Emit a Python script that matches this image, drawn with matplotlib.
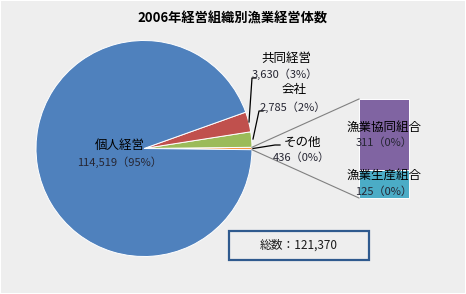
import matplotlib
matplotlib.use("Agg")
import matplotlib.pyplot as plt
from matplotlib.patches import Rectangle
import math

plt.rcParams['font.family'] = ['Noto Sans CJK JP', 'DejaVu Sans']

title = "2006年経営組織別漁業経営体数"
main_labels = ['その他', '会社', '共同経営', '個人経営']
main_values = [436, 2785, 3630, 114519]
main_pcts = ['0%', '2%', '3%', '95%']
sub_labels = ['漁業生産組合', '漁業協同組合']
sub_values = [125, 311]
sub_pcts = ['0%', '0%']
total_label = "総数：121,370"

W, H = 466, 294
fig = plt.figure(figsize=(W / 100, H / 100), dpi=100)
fig.patch.set_facecolor('#eeeeee')
ax = fig.add_axes([0, 0, 1, 1])

def Y(y):
    return H - y

total = sum(main_values)
colors = ['#F79646', '#9BBB59', '#C0504D', '#4F81BD']
half = main_values[0] / total * 360 / 2
cx, cy, R = 144, Y(148.5), 108
wedges, _ = ax.pie(main_values, colors=colors, startangle=-half, counterclock=True,
                   center=(cx, cy), radius=R,
                   wedgeprops=dict(edgecolor='white', linewidth=0.7))

# bar of the "other" slice
bx0, bx1 = 359, 409
by_bot, by_top = Y(198), Y(99)
scale = (by_top - by_bot) / sum(sub_values)
sub_colors = ['#4BACC6', '#8064A2']
bottom = by_bot
for v, c in zip(sub_values, sub_colors):
    ax.bar((bx0 + bx1) / 2, v * scale, bottom=bottom, width=bx1 - bx0, color=c,
           edgecolor='white', linewidth=0.7)
    bottom += v * scale

# connector lines
a = math.radians(half)
px = cx + R * math.cos(a)
ax.plot([px, bx0], [cy + R * math.sin(a), by_top], color='#808080', lw=0.8)
ax.plot([px, bx0], [cy - R * math.sin(a), by_bot], color='#808080', lw=0.8)

name_fs = 9
val_fs = 8
val_color = '#262633'

def lab(x, y, name):
    ax.text(x, Y(y), name, ha='center', va='center', fontsize=name_fs, color='black')

def val(x, y, s):
    ax.text(x, Y(y), s, ha='center', va='center', fontsize=val_fs, color=val_color)

pos_main = {
    '個人経営': ((120, 145), (120, 162)),
    '共同経営': ((286, 58), (285, 74)),
    '会社': ((294, 90), (293, 107)),
    'その他': ((302, 142), (301, 158)),
}
for n, v, p in zip(main_labels, main_values, main_pcts):
    (nx, ny), (vx, vy) = pos_main[n]
    lab(nx, ny, n)
    val(vx, vy, f"{v:,}（{p}）")

pos_sub = {
    '漁業協同組合': ((384, 127), (384, 143)),
    '漁業生産組合': ((384, 175), (384, 192)),
}
for n, v, p in zip(sub_labels, sub_values, sub_pcts):
    (nx, ny), (vx, vy) = pos_sub[n]
    lab(nx, ny, n)
    val(vx, vy, f"{v:,}（{p}）")

# leader lines
ax.plot([249, 252, 256], [Y(122), Y(78), Y(78)], color='black', lw=0.9)
ax.plot([253, 259, 263], [Y(139), Y(111), Y(111)], color='black', lw=0.9)
ax.plot([253, 275, 280], [Y(148.5), Y(145), Y(145)], color='black', lw=0.9)

# title
ax.text(W / 2, Y(18), title, ha='center', va='center', fontsize=9.5, fontweight='bold')

# total box
ax.add_patch(Rectangle((229, Y(260)), 140, 29, facecolor='#eeeeee',
                       edgecolor='#2f5a8e', linewidth=1.6))
ax.text(299, Y(245.5), total_label, ha='center', va='center', fontsize=8.5, color='#1a1a1a')

ax.set_xlim(0, W)
ax.set_ylim(0, H)
ax.set_aspect('auto')
ax.axis('off')

fig.patches.append(Rectangle((0, 0), 1, 1, transform=fig.transFigure, fill=False,
                             edgecolor='white', linewidth=1.5))

fig.savefig('out.png', dpi=100, facecolor=fig.get_facecolor())
